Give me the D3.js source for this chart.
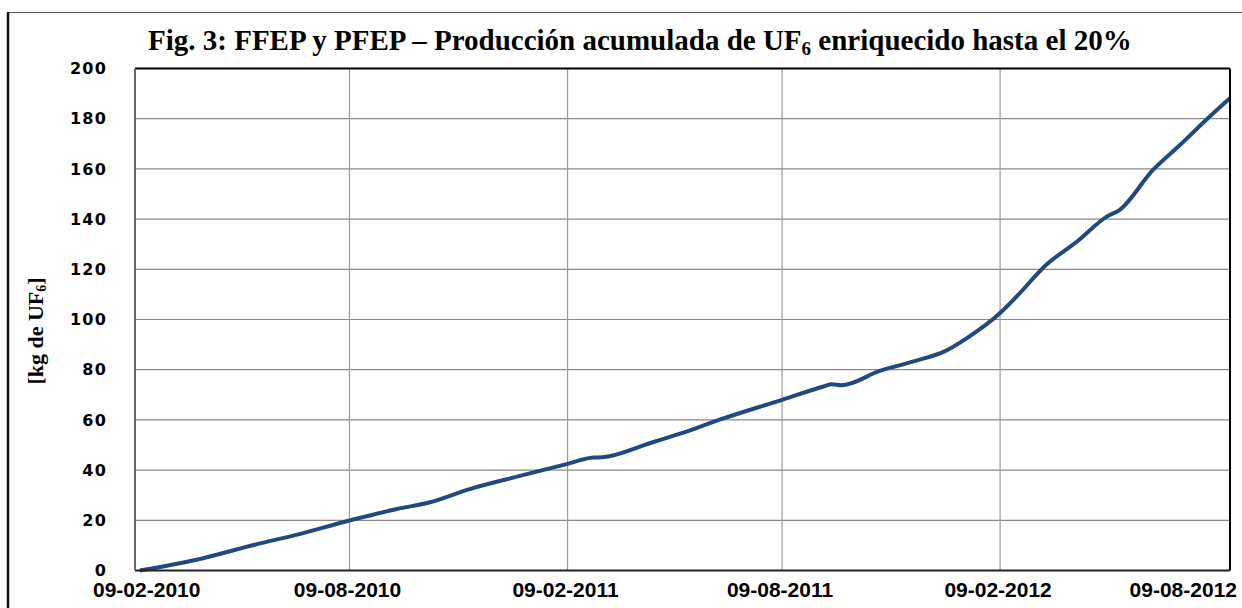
<!DOCTYPE html>
<html>
<head>
<meta charset="utf-8">
<script src="https://cdn.jsdelivr.net/npm/d3@7"></script>
<style>
	body { margin: 0; background: #fff; }
	svg { display: block; }
</style>
</head>
<body>
<svg id="svg" width="1242" height="608"></svg>
<script>
// data
const dates = ['2010-02-13', '2010-04-02', '2010-05-23', '2010-06-25', '2010-08-09', '2010-09-18',
	'2010-10-16', '2010-11-19', '2010-12-31', '2011-02-09', '2011-03-03', '2011-03-10', '2011-04-20',
	'2011-05-15', '2011-06-18', '2011-08-09', '2011-09-13', '2011-09-20', '2011-09-28', '2011-10-31',
	'2011-11-28', '2011-12-25', '2012-01-12', '2012-02-09', '2012-02-23', '2012-03-19', '2012-04-14',
	'2012-05-09', '2012-05-20', '2012-06-17', '2012-07-10', '2012-08-01', '2012-08-21'];
const kg = [0, 4.3, 10.5, 14.2, 19.9, 24.5,
	27.2, 32.5, 37.7, 42.5, 45, 45.1, 50.8,
	54.5, 60.2, 68, 73.3, 74.2, 73.8, 79.6,
	83.3, 87.5, 92.6, 102.6, 109.2, 121.8, 131.1,
	141, 143.7, 159.6, 169.6, 179.6, 188.2];
const xTickDates = ['2010-02-09', '2010-08-09', '2011-02-09', '2011-08-09', '2012-02-09', '2012-08-09'];
const yTicks = [0, 20, 40, 60, 80, 100, 120, 140, 160, 180, 200];

const parse = d3.timeParse('%Y-%m-%d');
const fmt = d3.timeFormat('%d-%m-%Y');
const data = dates.map((d, i) => ({ date: parse(d), kg: kg[i] }));

const margin = { top: 68.5, right: 12, bottom: 37.5, left: 135 };
const W = 1242, H = 608;

const svg = d3.select('#svg');

// outer frame (only top and left edges show)
svg.append('line').attr('x1', 8).attr('x2', W).attr('y1', 12.5).attr('y2', 12.5)
	.attr('stroke', '#555').attr('stroke-width', 1.2);
svg.append('line').attr('x1', 8).attr('x2', 8).attr('y1', 12).attr('y2', H)
	.attr('stroke', '#111').attr('stroke-width', 2.5);

// scales
const xscale = d3.scaleTime()
	.domain([parse('2010-02-09'), parse('2012-08-21')])
	.range([margin.left, W - margin.right]);
const yscale = d3.scaleLinear()
	.domain([0, 200])
	.range([H - margin.bottom, margin.top]);

// grid
svg.append('g')
	.selectAll('line')
	.data(yTicks.slice(1, -1))
	.enter()
	.append('line')
	.attr('x1', margin.left).attr('x2', W - margin.right)
	.attr('y1', (d) => yscale(d)).attr('y2', (d) => yscale(d))
	.attr('stroke', '#8a8a8a').attr('stroke-width', 1.2);

svg.append('g')
	.selectAll('line')
	.data(xTickDates.slice(1, -1))
	.enter()
	.append('line')
	.attr('x1', (d) => xscale(parse(d))).attr('x2', (d) => xscale(parse(d)))
	.attr('y1', margin.top).attr('y2', H - margin.bottom)
	.attr('stroke', '#9a9a9a').attr('stroke-width', 1.2);

// line
const line = d3.line()
	.curve(d3.curveMonotoneX)
	.x((d) => xscale(d.date))
	.y((d) => yscale(d.kg));

svg.append('path')
	.datum(data)
	.attr('d', line)
	.attr('fill', 'none')
	.attr('stroke', '#21497f')
	.attr('stroke-width', 4)
	.attr('stroke-linejoin', 'round');

// plot border
svg.append('line').attr('x1', margin.left).attr('x2', W - margin.right)
	.attr('y1', margin.top).attr('y2', margin.top).attr('stroke', '#000').attr('stroke-width', 2);
svg.append('line').attr('x1', W - margin.right).attr('x2', W - margin.right)
	.attr('y1', margin.top).attr('y2', H - margin.bottom).attr('stroke', '#000').attr('stroke-width', 2);
svg.append('line').attr('x1', margin.left).attr('x2', W - margin.right)
	.attr('y1', H - margin.bottom).attr('y2', H - margin.bottom).attr('stroke', '#222').attr('stroke-width', 2);
svg.append('line').attr('x1', margin.left).attr('x2', margin.left)
	.attr('y1', margin.top).attr('y2', H - margin.bottom).attr('stroke', '#666').attr('stroke-width', 2);

// y tick labels
svg.append('g')
	.selectAll('text')
	.data(yTicks)
	.enter()
	.append('text')
	.attr('x', 107)
	.attr('y', (d) => yscale(d))
	.attr('dy', '0.36em')
	.attr('text-anchor', 'end')
	.attr('font-family', 'DejaVu Sans')
	.attr('font-weight', 'bold')
	.attr('font-size', 16)
	.attr('letter-spacing', 1.2)
	.text((d) => d);

// x tick labels, edge ones pushed inside the figure
const xl = svg.append('g')
	.selectAll('text')
	.data(xTickDates)
	.enter()
	.append('text')
	.attr('y', 597)
	.attr('text-anchor', 'middle')
	.attr('font-family', 'Liberation Sans, Arial')
	.attr('font-weight', 'bold')
	.attr('font-size', 21)
	.text((d) => fmt(parse(d)));
xl.attr('x', function (d) {
	const half = this.getComputedTextLength() / 2;
	const cx = xscale(parse(d)) - 2;
	return Math.min(Math.max(cx, 93 + half), 1237 - half);
});

// title
const title = svg.append('text')
	.attr('x', 148)
	.attr('y', 50)
	.attr('font-family', 'Liberation Serif, Times New Roman')
	.attr('font-weight', 'bold')
	.attr('font-size', 29);
title.append('tspan').text('Fig. 3: FFEP y PFEP \u2013 Producción acumulada de UF');
title.append('tspan').attr('font-size', 19).attr('dy', 5).text('6');
title.append('tspan').attr('dy', -5).text(' enriquecido hasta el 20%');

// y axis title
const ytitle = svg.append('text')
	.attr('transform', 'translate(43, 331) rotate(-90)')
	.attr('text-anchor', 'middle')
	.attr('font-family', 'Liberation Serif, Times New Roman')
	.attr('font-weight', 'bold')
	.attr('font-size', 22);
ytitle.append('tspan').text('[kg de UF');
ytitle.append('tspan').attr('font-size', 14).attr('dy', 3).text('6');
ytitle.append('tspan').attr('dy', -3).text(']');
</script>
</body>
</html>
